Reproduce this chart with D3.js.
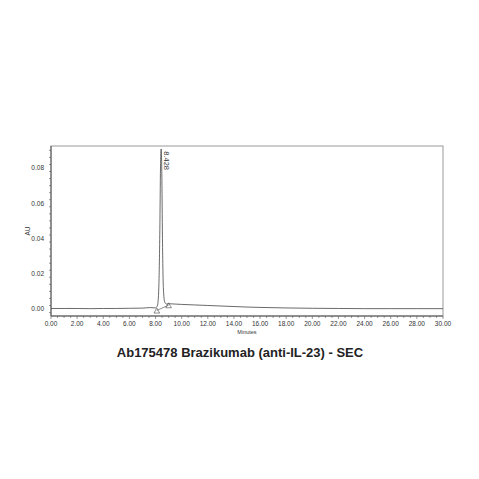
<!DOCTYPE html><html><head><script src="https://cdn.jsdelivr.net/npm/d3@7"></script>
<style>body{margin:0;background:#fff}text{font-family:"Liberation Sans",Arial,sans-serif}</style></head><body><svg id="c" width="479" height="479"></svg><script>
const time=[0,1,2,3,4,5,6,7,7.6,8.0,8.15,8.25,8.33,8.38,8.43,8.48,8.53,8.6,8.7,8.85,9.0,9.5,10,11,12,13,14,15,16,18,20,22,24,26,28,30];
const au=[0.0003,0.0003,0.0003,0.0002,0.0003,0.0003,0.0004,0.0005,0.0008,0.0006,0.002,0.012,0.045,0.08,0.0908,0.078,0.04,0.012,0.004,0.0028,0.003,0.0028,0.0026,0.0023,0.002,0.0017,0.0014,0.0011,0.0009,0.0006,0.0004,0.0003,0.0002,0.0002,0.0002,0.0002];
const peakLabel="8.428", peakTime=8.428;
const intBase=[[8.1,-0.0008],[9.0,0.0022]];
const xTicks=d3.range(0,30.01,2), yTicks=[0,0.02,0.04,0.06,0.08];
const svg=d3.select("#c");
const x=d3.scaleLinear().domain([0,30]).range([51,443]);
const y=d3.scaleLinear().domain([0,0.08]).range([309,168]);
const pTop=146,pBot=316;
svg.append("rect").attr("x",51).attr("y",pTop).attr("width",392).attr("height",pBot-pTop).attr("fill","none").attr("stroke","#999").attr("stroke-width",1);
svg.append("line").attr("x1",51).attr("x2",51).attr("y1",pTop).attr("y2",pBot).attr("stroke","#555");
svg.append("line").attr("x1",51).attr("x2",443).attr("y1",pBot).attr("y2",pBot).attr("stroke","#555");
const g=svg.append("g");
d3.range(0,30.01,0.5).forEach(v=>g.append("line").attr("x1",x(v)).attr("x2",x(v)).attr("y1",pBot).attr("y2",pBot+(v%2===0?3:2)).attr("stroke","#555").attr("stroke-width",0.6));
xTicks.forEach(v=>g.append("text").attr("x",x(v)).attr("y",pBot+10).attr("text-anchor","middle").attr("font-size",6.5).attr("fill","#333").text(v.toFixed(2)));
d3.range(-0.002,0.0901,0.004).forEach(v=>g.append("line").attr("x1",51).attr("x2",51-(Math.abs(v*50-Math.round(v*50))<1e-6?3:2)).attr("y1",y(v)).attr("y2",y(v)).attr("stroke","#555").attr("stroke-width",0.6));
yTicks.forEach(v=>g.append("text").attr("x",44).attr("y",y(v)+2.3).attr("text-anchor","end").attr("font-size",6.5).attr("fill","#333").text(v.toFixed(2)));
svg.append("text").attr("transform","translate(30,"+((pTop+pBot)/2)+") rotate(-90)").attr("text-anchor","middle").attr("font-size",6.5).attr("fill","#333").text("AU");
svg.append("text").attr("x",247).attr("y",334).attr("text-anchor","middle").attr("font-size",5.5).attr("fill","#333").text("Minutes");
const line=d3.line().x(d=>x(d[0])).y(d=>y(d[1])).curve(d3.curveMonotoneX);
svg.append("path").datum(time.map((t,i)=>[t,au[i]])).attr("d",line).attr("fill","none").attr("stroke","#444").attr("stroke-width",0.8);
svg.append("path").datum(intBase).attr("d",d3.line().x(d=>x(d[0])).y(d=>y(d[1]))).attr("fill","none").attr("stroke","#444").attr("stroke-width",0.6);
intBase.forEach(d=>svg.append("path").attr("d",d3.symbol(d3.symbolTriangle,14)()).attr("transform",`translate(${x(d[0])},${y(d[1])+1})`).attr("fill","none").attr("stroke","#444").attr("stroke-width",0.6));
svg.append("text").attr("transform",`translate(${x(peakTime)+3},${y(0.0895)}) rotate(90)`).attr("font-size",7.5).attr("fill","#333").text(peakLabel);
svg.append("text").attr("x",240).attr("y",357).attr("text-anchor","middle").attr("font-size",13).attr("font-weight","bold").attr("fill","#222").text("Ab175478 Brazikumab (anti-IL-23) - SEC");
</script></body></html>
